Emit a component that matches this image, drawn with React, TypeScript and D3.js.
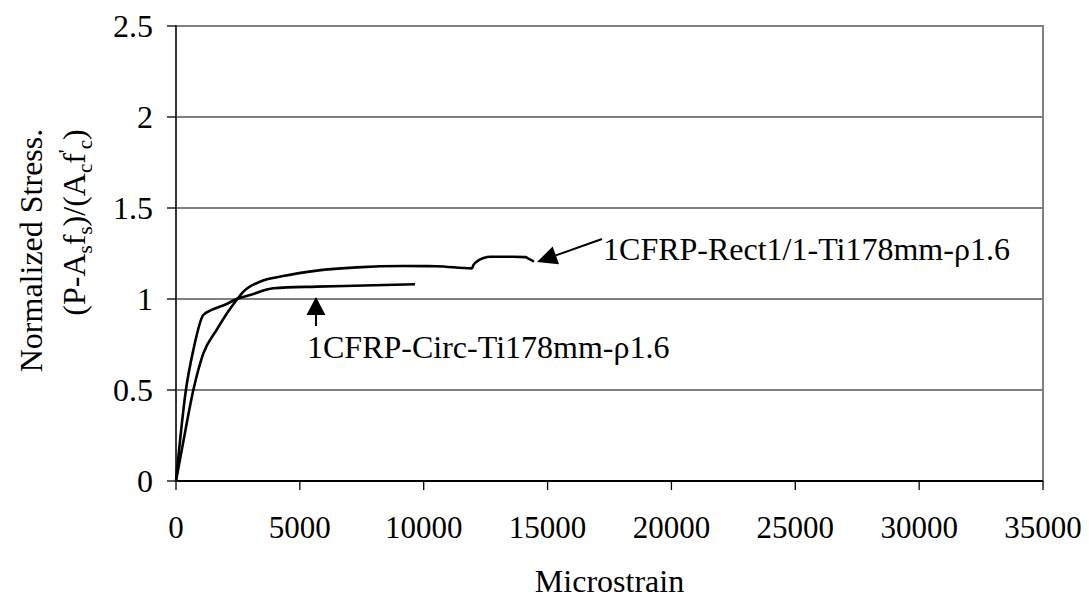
import React from "react";
import * as d3 from "d3";

// Strain (microstrain) and normalized stress for each specimen
const circStrain = [0, 400, 700, 1100, 1440, 2000, 2450, 2990, 3930, 5680, 7600, 9650];
const circStress = [0, 0.5, 0.72, 0.912, 0.94, 0.97, 1.0, 1.022, 1.059, 1.068, 1.074, 1.081];

const rectStrain = [0, 300, 700, 1100, 1640, 2100, 2480, 2720, 3390, 4330, 5680, 7300, 9180, 10500, 11940, 12010, 12210, 12420, 12700, 13600, 14100, 14250, 14450];
const rectStress = [0, 0.22, 0.5, 0.7, 0.83, 0.93, 1.0, 1.04, 1.095, 1.126, 1.156, 1.174, 1.181, 1.18, 1.168, 1.187, 1.212, 1.225, 1.232, 1.232, 1.23, 1.22, 1.205];

const xTicks = [0, 5000, 10000, 15000, 20000, 25000, 30000, 35000];
const yTicks = [0, 0.5, 1, 1.5, 2, 2.5];

const circLabel = "1CFRP-Circ-Ti178mm-ρ1.6";
const rectLabel = "1CFRP-Rect1/1-Ti178mm-ρ1.6";

const W = 1089;
const H = 600;
const margin = { left: 176, right: 46, top: 26, bottom: 119 };
const FONT = "'Liberation Serif', 'Times New Roman', serif";

export default function App() {
  const x = d3.scaleLinear().domain([0, 35000]).range([margin.left, W - margin.right]);
  const y = d3.scaleLinear().domain([0, 2.5]).range([H - margin.bottom, margin.top]);

  const line = d3
    .line<[number, number]>()
    .x((d) => x(d[0]))
    .y((d) => y(d[1]))
    .curve(d3.curveMonotoneX);

  const circPts = circStrain.map((s, i) => [s, circStress[i]] as [number, number]);
  const rectPts = rectStrain.map((s, i) => [s, rectStress[i]] as [number, number]);

  const x0 = x(0);
  const x1 = x(35000);
  const yTop = y(2.5);
  const yBot = y(0);

  // Arrow for the circular specimen: vertical, pointing up at the curve
  const cTipX = x(5650);
  const cTipY = y(1.011);
  const cHead = 18;
  const cHalf = 9.5;

  // Arrow for the rectangular specimen: angled leader from the label
  const rTip: [number, number] = [x(14574), y(1.203)];
  const rFrom: [number, number] = [x(17198), y(1.33)];
  const dx = rFrom[0] - rTip[0];
  const dy = rFrom[1] - rTip[1];
  const len = Math.hypot(dx, dy);
  const ux = dx / len;
  const uy = dy / len;
  const rHead = 20;
  const rHalf = 9.5;
  const bx = rTip[0] + ux * rHead;
  const by = rTip[1] + uy * rHead;
  const rHeadPts = [
    rTip,
    [bx - uy * rHalf, by + ux * rHalf],
    [bx + uy * rHalf, by - ux * rHalf],
  ]
    .map((p) => p.join(","))
    .join(" ");

  const yMid = (yTop + yBot) / 2;

  return (
    <svg
      width={W}
      height={H}
      style={{ position: "absolute", left: 0, top: 0, background: "#fff" }}
      fontFamily={FONT}
    >
      {/* horizontal gridlines */}
      {yTicks.slice(1, -1).map((t) => (
        <line key={t} x1={x0} x2={x1} y1={y(t)} y2={y(t)} stroke="#000" strokeWidth={1.2} />
      ))}
      {/* plot-area border */}
      <rect x={x0} y={yTop} width={x1 - x0} height={yBot - yTop} fill="none" stroke="#808080" strokeWidth={2} />

      {/* y axis */}
      <line x1={x0} x2={x0} y1={yTop - 1} y2={yBot} stroke="#333" strokeWidth={2} />
      {yTicks.map((t) => (
        <g key={t}>
          <line x1={x0 - 9} x2={x0} y1={y(t)} y2={y(t)} stroke="#000" strokeWidth={1.3} />
          <text x={153} y={y(t)} dy="0.35em" textAnchor="end" fontSize={32}>
            {String(t)}
          </text>
        </g>
      ))}

      {/* x axis */}
      <line x1={x0} x2={x1} y1={yBot} y2={yBot} stroke="#000" strokeWidth={2} />
      {xTicks.map((t) => (
        <g key={t}>
          <line x1={x(t)} x2={x(t)} y1={yBot} y2={yBot + 9} stroke="#000" strokeWidth={1.3} />
          <text x={x(t)} y={538} textAnchor="middle" fontSize={31}>
            {String(t)}
          </text>
        </g>
      ))}

      {/* axis titles */}
      <text x={(x0 + x1) / 2} y={592} textAnchor="middle" fontSize={32}>
        Microstrain
      </text>
      <text transform={`translate(42,${yMid - 3}) rotate(-90)`} textAnchor="middle" fontSize={32}>
        Normalized Stress.
      </text>
      <text transform={`translate(85,${yMid - 31}) rotate(-90)`} textAnchor="middle" fontSize={32}>
        (P-A<tspan fontSize={21} dy={7}>s</tspan>
        <tspan dy={-7}>f</tspan>
        <tspan fontSize={21} dy={7}>s</tspan>
        <tspan dy={-7}>)/(A</tspan>
        <tspan fontSize={21} dy={7}>c</tspan>
        <tspan dy={-7}>f</tspan>
        <tspan fontSize={21} dy={-12}>'</tspan>
        <tspan fontSize={21} dy={19}>c</tspan>
        <tspan dy={-7}>)</tspan>
      </text>

      {/* curves */}
      <path d={line(circPts) ?? ""} fill="none" stroke="#000" strokeWidth={2.6} strokeLinejoin="round" />
      <path d={line(rectPts) ?? ""} fill="none" stroke="#000" strokeWidth={2.6} strokeLinejoin="round" />

      {/* annotations */}
      <line x1={cTipX} x2={cTipX} y1={cTipY + cHead} y2={cTipY + 29} stroke="#000" strokeWidth={2} />
      <polygon
        points={`${cTipX},${cTipY} ${cTipX - cHalf},${cTipY + cHead} ${cTipX + cHalf},${cTipY + cHead}`}
        fill="#000"
      />
      <text x={x(5289)} y={y(0.676)} fontSize={32}>
        {circLabel}
      </text>

      <line x1={rFrom[0]} y1={rFrom[1]} x2={bx} y2={by} stroke="#000" strokeWidth={2} />
      <polygon points={rHeadPts} fill="#000" />
      <text x={x(17239)} y={y(1.214)} fontSize={32}>
        {rectLabel}
      </text>
    </svg>
  );
}
